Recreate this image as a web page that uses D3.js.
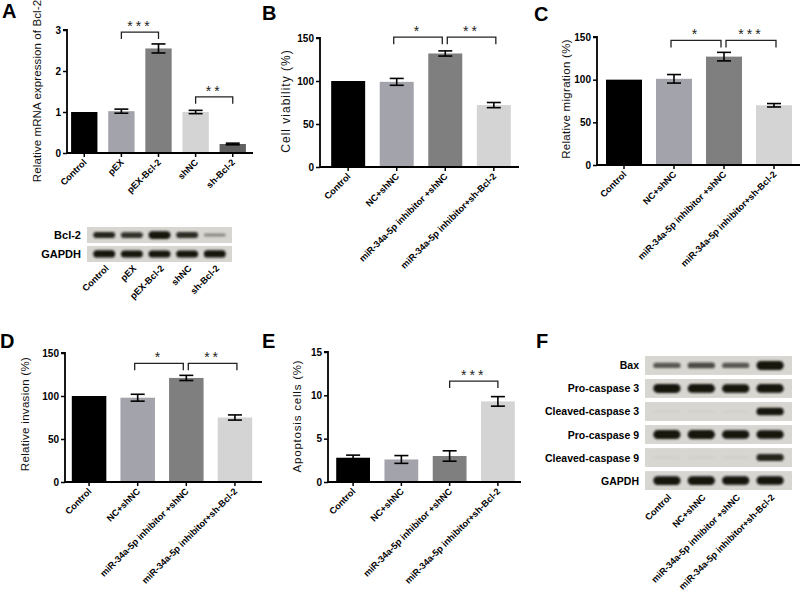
<!DOCTYPE html>
<html><head><meta charset="utf-8">
<script src="https://cdn.jsdelivr.net/npm/d3@7"></script>
<style>
body{margin:0;background:#fff;}
svg{font-family:"Liberation Sans",Arial,sans-serif;}
</style></head>
<body><svg id="c" width="800" height="600"></svg>
<script>
// ---------- DATA ----------
const catsA = ["Control","pEX","pEX-Bcl-2","shNC","sh-Bcl-2"];
const valsA = [1.0, 1.02, 2.55, 1.0, 0.22];
const errA  = [0, 0.05, 0.11, 0.04, 0.02];
const ticksA = [0,1,2,3];

const catsG = ["Control","NC+shNC","miR-34a-5p inhibitor +shNC","miR-34a-5p inhibitor+sh-Bcl-2"];
const valsB = [100, 99, 132, 72];
const errB  = [0, 4, 3, 3];
const valsC = [100, 101, 127, 70];
const errC  = [0, 5, 5, 2];
const valsD = [100, 98, 121, 75];
const errD  = [0, 4, 3, 3];
const valsE = [2.8, 2.6, 3.0, 9.3];
const errE  = [0.3, 0.45, 0.6, 0.55];
const ticksPct = [0,50,100,150];
const ticksE = [0,5,10,15];

const blotLanesA = ["Control","pEX","pEX-Bcl-2","shNC","sh-Bcl-2"];
const blotRowsA = ["Bcl-2","GAPDH"];
const bandA_Bcl2  = [0.72, 0.65, 1.0, 0.68, 0.2];
const bandA_GAPDH = [0.92, 0.9, 0.9, 0.9, 0.92];

const blotRowsF = ["Bax","Pro-caspase 3","Cleaved-caspase 3","Pro-caspase 9","Cleaved-caspase 9","GAPDH"];
const bandF_Bax   = [0.45, 0.52, 0.45, 1.0];
const bandF_Pro3  = [0.97, 0.95, 0.92, 0.95];
const bandF_Cl3   = [0.04, 0.04, 0.04, 0.8];
const bandF_Pro9  = [0.97, 0.97, 0.95, 0.95];
const bandF_Cl9   = [0.04, 0.04, 0.04, 0.72];
const bandF_GAPDH = [0.95, 0.95, 0.9, 0.92];

const colorsA = ["#000000","#a3a3ab","#7f7f7f","#d4d4d4","#606060"];
const colorsG = ["#000000","#a3a3ab","#7f7f7f","#d4d4d4"];

// ---------- DRAW ----------
const svg = d3.select("#c");
const defs = svg.append("defs");
defs.append("filter").attr("id","blur").attr("x","-30%").attr("y","-80%").attr("width","160%").attr("height","260%")
  .append("feGaussianBlur").attr("stdDeviation","1.2");

function letter(t,x,y){
  svg.append("text").attr("x",x).attr("y",y).text(t)
    .attr("font-size",20).attr("font-weight","bold").attr("fill","#000");
}

function barPanel(o){
  const g = svg.append("g");
  const x = d3.scaleBand().domain(o.cats).range(o.xr).paddingInner(o.pi).paddingOuter(o.po);
  const y = d3.scaleLinear().domain([0,o.max]).range(o.yr);
  g.selectAll("rect.bar").data(o.vals).join("rect")
    .attr("x",(d,i)=>x(o.cats[i])).attr("width",x.bandwidth())
    .attr("y",d=>y(d)).attr("height",d=>y(0)-y(d))
    .attr("fill",(d,i)=>o.colors[i]);
  o.vals.forEach((v,i)=>{
    const e=o.errs[i]; if(!e) return;
    const cx = x(o.cats[i])+x.bandwidth()/2;
    const eg = g.append("g").attr("stroke","#000").attr("stroke-width",1.6);
    eg.append("line").attr("x1",cx).attr("x2",cx).attr("y1",y(v-e)).attr("y2",y(v+e));
    [v-e,v+e].forEach(t=>eg.append("line").attr("x1",cx-7).attr("x2",cx+7).attr("y1",y(t)).attr("y2",y(t)));
  });
  const ya = g.append("g").attr("transform",`translate(${o.xr[0]},0)`)
    .call(d3.axisLeft(y).tickValues(o.ticks).tickSize(4).tickPadding(2).tickFormat(d3.format("d")));
  ya.select(".domain").attr("stroke-width",1.8).attr("d",`M-4,${y(o.max)}H0V${y(0)}`);
  ya.selectAll(".tick line").attr("stroke-width",1.5);
  ya.selectAll("text").attr("font-size",10).attr("font-weight","bold").attr("font-family","Liberation Sans, Arial");
  const xa = g.append("g").attr("transform",`translate(0,${y(0)})`)
    .call(d3.axisBottom(x).tickSize(4).tickFormat(""));
  xa.select(".domain").attr("stroke-width",1.8).attr("d",`M${o.xr[0]},0H${o.xEnd}`);
  xa.selectAll(".tick line").attr("stroke-width",1.5);
  o.cats.forEach(c=>{
    const cx = x(c)+x.bandwidth()/2+3;
    g.append("text").attr("transform",`translate(${cx},${y(0)+10}) rotate(-45)`)
      .attr("text-anchor","end").attr("font-size",o.catSize||9.2).attr("font-weight","bold").text(c);
  });
  g.append("text").attr("transform",`translate(${o.ylx},${o.yly}) rotate(-90)`)
    .attr("text-anchor","middle").attr("font-size",o.ylSize||11.5).attr("letter-spacing",o.ls||0.3)
    .attr("fill","#111").text(o.ylabel);
  (o.sig||[]).forEach(s=>{
    const x1 = x(o.cats[s[0]])+x.bandwidth()/2+(s[4]||0);
    const x2 = x(o.cats[s[1]])+x.bandwidth()/2+(s[5]||0);
    const yy = y(s[3]);
    g.append("path").attr("d",`M${x1},${yy+7}V${yy}H${x2}V${yy+7}`)
      .attr("fill","none").attr("stroke","#222").attr("stroke-width",1.3);
    g.append("text").attr("x",(x1+x2)/2).attr("y",yy-1).attr("text-anchor","middle")
      .attr("font-size",14).attr("letter-spacing",3).attr("fill","#222").text(s[2]);
  });
}

function blot(o){
  const g = svg.append("g");
  const lx = d3.scaleBand().domain(o.lanes).range([o.x0,o.x1]).padding(0.1);
  const ry = d3.scaleBand().domain(o.rows).range([o.y0,o.y1]).paddingInner(o.rp);
  o.rows.forEach((r,ri)=>{
    g.append("rect").attr("x",o.x0-o.m).attr("y",ry(r)).attr("width",o.x1-o.x0+2*o.m).attr("height",ry.bandwidth())
      .attr("fill","#d7d6d1");
    g.append("text").attr("x",o.x0-o.m-6).attr("y",ry(r)+ry.bandwidth()/2+4).attr("text-anchor","end")
      .attr("font-size",o.fs).attr("font-weight","bold").text(r);
    const bands = o.bands[ri];
    const cy = ry(r)+ry.bandwidth()/2;
    bands.forEach((v,li)=>{
      const cx = lx(o.lanes[li])+lx.bandwidth()/2;
      const w = lx.bandwidth()*0.88, h = ry.bandwidth()*(0.12+0.36*v);
      g.append("rect").attr("x",cx-w/2).attr("y",cy-h/2).attr("width",w).attr("height",h)
        .attr("rx",h/2).attr("fill","#161210").attr("opacity",v<0.1?v*0.8:Math.min(1,0.2+v))
        .attr("filter","url(#blur)");
    });
  });
  o.lanes.forEach(l=>{
    const cx = lx(l)+lx.bandwidth()/2+5;
    g.append("text").attr("transform",`translate(${cx},${o.y1+o.ly}) rotate(-45)`)
      .attr("text-anchor","end").attr("font-size",9.2).attr("font-weight","bold").text(l);
  });
}

// Panel A
letter("A",2,18);
barPanel({cats:catsA, vals:valsA, errs:errA, colors:colorsA, max:3, ticks:ticksA,
  xr:[67,250], xEnd:253, pi:0.29, po:0.11, yr:[153,30],
  ylabel:"Relative mRNA expression of Bcl-2", ylx:41, yly:91, ylSize:11.5, ls:0.1,
  sig:[[1,2,"***",2.95],[3,4,"**",1.37]]});
blot({lanes:blotLanesA, rows:blotRowsA, bands:[bandA_Bcl2,bandA_GAPDH], x0:89, x1:230, m:2, y0:227, y1:262, rp:0.15, fs:11, ly:7});

// Panel B
letter("B",262,20);
barPanel({cats:catsG, vals:valsB, errs:errB, colors:colorsG, max:150, ticks:ticksPct,
  xr:[320,522], xEnd:519, pi:0.3, po:0.23, yr:[167,38],
  ylabel:"Cell viability (%)", ylx:290, yly:101, ylSize:12, ls:1,
  sig:[[1,2,"*",151,-3,-3],[2,3,"**",151,2,2]]});

// Panel C
letter("C",534,21);
barPanel({cats:catsG, vals:valsC, errs:errC, colors:colorsG, max:150, ticks:ticksPct,
  xr:[597,801], xEnd:800, pi:0.28, po:0.18, yr:[165,37],
  ylabel:"Relative migration (%)", ylx:570, yly:99, ylSize:11.5, ls:0.3,
  sig:[[1,2,"*",146,-3,-3],[2,3,"***",146,2,2]]});

// Panel D
letter("D",0,348);
barPanel({cats:catsG, vals:valsD, errs:errD, colors:colorsG, max:150, ticks:ticksPct,
  xr:[65,259], xEnd:262, pi:0.29, po:0.14, yr:[482,353],
  ylabel:"Relative invasion (%)", ylx:29, yly:414, ylSize:11.5, ls:0.3,
  sig:[[1,2,"*",138,-3,-3],[2,3,"**",138,2,2]]});

// Panel E
letter("E",262,348);
barPanel({cats:catsG, vals:valsE, errs:errE, colors:colorsG, max:15, ticks:ticksE,
  xr:[328,523], xEnd:521, pi:0.3, po:0.17, yr:[482,352],
  ylabel:"Apoptosis cells (%)", ylx:301, yly:416, ylSize:11.5, ls:0.8,
  sig:[[2,3,"***",11.65]]});

// Panel F
letter("F",536,348);
blot({lanes:catsG, rows:blotRowsF, bands:[bandF_Bax,bandF_Pro3,bandF_Cl3,bandF_Pro9,bandF_Cl9,bandF_GAPDH],
  x0:648, x1:789, m:3, y0:356, y1:490, rp:0.18, fs:10.5, ly:8});
</script></body></html>
